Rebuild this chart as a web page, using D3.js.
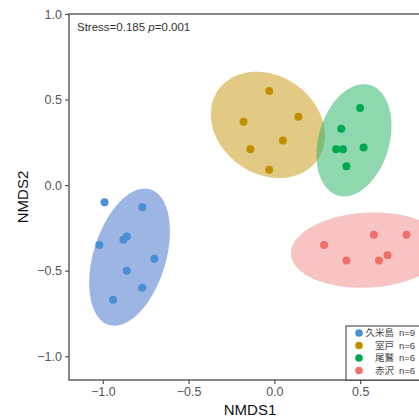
<!DOCTYPE html>
<html>
<head>
<meta charset="utf-8">
<script src="https://cdn.jsdelivr.net/npm/d3@7"></script>
<style>
  body { margin: 0; background: #fff; }
  svg { display: block; font-family: "Liberation Sans", Arial, sans-serif; }
</style>
</head>
<body>
<div id="chart"></div>
<script>
// groups (sites)
var groups = ["久米島", "室戸", "尾鷲", "赤沢"];
var groupN = [9, 6, 6, 6];
var pointColors = ["#4a8fd6", "#c08f00", "#00a84f", "#ef6f6a"];
var ellipseColors = ["#3a6cc8", "#c8960a", "#20b060", "#f08888"];

// NMDS scores
var kumejimaX = [-0.99, -0.77, -1.02, -0.88, -0.86, -0.70, -0.86, -0.77, -0.94];
var kumejimaY = [-0.10, -0.13, -0.35, -0.32, -0.30, -0.43, -0.50, -0.60, -0.67];
var murotoX = [-0.03, -0.18, 0.14, 0.05, -0.14, -0.03];
var murotoY = [0.55, 0.37, 0.40, 0.26, 0.21, 0.09];
var owaseX = [0.50, 0.39, 0.36, 0.40, 0.52, 0.42];
var owaseY = [0.45, 0.33, 0.21, 0.21, 0.22, 0.11];
var akasawaX = [0.29, 0.58, 0.77, 0.42, 0.61, 0.66];
var akasawaY = [-0.35, -0.29, -0.29, -0.44, -0.44, -0.41];

// 95% ellipses: centre, semi-axes, angle (deg) in NMDS units
var ellCx = [-0.844, -0.038, 0.464, 0.545];
var ellCy = [-0.421, 0.352, 0.262, -0.380];
var ellA = [0.414, 0.354, 0.336, 0.449];
var ellB = [0.211, 0.286, 0.206, 0.219];
var ellAngle = [73, 144.6, 74, 3];

var xTicks = [-1.0, -0.5, 0.0, 0.5];
var yTicks = [-1.0, -0.5, 0.0, 0.5, 1.0];
var annotation = "Stress=0.185 ";
var annotationP = "=0.001";

var allX = [kumejimaX, murotoX, owaseX, akasawaX];
var allY = [kumejimaY, murotoY, owaseY, akasawaY];

var width = 419, height = 419;
var margin = { top: 14, left: 69, bottom: 380, right: 431 };

var svg = d3.select("#chart").append("svg")
  .attr("width", width)
  .attr("height", height);

var x = d3.scaleLinear().domain([-1.197, 0.913]).range([margin.left, margin.right]);
var y = d3.scaleLinear().domain([-1.139, 1.0]).range([margin.bottom, margin.top]);

var fmt = d3.format(".1f");

// ellipses
var line = d3.line()
  .x(function(d) { return x(d[0]); })
  .y(function(d) { return y(d[1]); })
  .curve(d3.curveLinearClosed);

for (var g = 0; g < groups.length; g++) {
  var pts = [];
  var phi = ellAngle[g] * Math.PI / 180;
  for (var k = 0; k < 120; k++) {
    var t = k / 120 * 2 * Math.PI;
    pts.push([
      ellCx[g] + ellA[g] * Math.cos(t) * Math.cos(phi) - ellB[g] * Math.sin(t) * Math.sin(phi),
      ellCy[g] + ellA[g] * Math.cos(t) * Math.sin(phi) + ellB[g] * Math.sin(t) * Math.cos(phi)
    ]);
  }
  svg.append("path")
    .attr("d", line(pts))
    .attr("fill", ellipseColors[g])
    .attr("fill-opacity", 0.5)
    .attr("stroke", "none");
}

// points
for (var g = 0; g < groups.length; g++) {
  svg.append("g").selectAll("circle")
    .data(d3.range(allX[g].length))
    .enter()
    .append("circle")
    .attr("cx", function(i) { return x(allX[g][i]); })
    .attr("cy", function(i) { return y(allY[g][i]); })
    .attr("r", 4)
    .attr("fill", pointColors[g]);
}

// axes
var xAxis = d3.axisBottom(x).tickValues(xTicks).tickFormat(fmt).tickSize(4).tickPadding(3);
var yAxis = d3.axisLeft(y).tickValues(yTicks).tickFormat(fmt).tickSize(4).tickPadding(3);

var gx = svg.append("g")
  .attr("transform", "translate(0," + margin.bottom + ")")
  .call(xAxis);
var gy = svg.append("g")
  .attr("transform", "translate(" + margin.left + ",0)")
  .call(yAxis);

[gx, gy].forEach(function(a) {
  a.select(".domain").remove();
  a.selectAll(".tick line").attr("stroke", "#555").attr("stroke-width", 1.2);
  a.selectAll(".tick text")
    .attr("fill", "#555")
    .style("font-size", "12.5px")
    .style("font-family", "'Liberation Sans', Arial, sans-serif");
});

// panel border
svg.append("rect")
  .attr("x", margin.left)
  .attr("y", margin.top)
  .attr("width", margin.right - margin.left)
  .attr("height", margin.bottom - margin.top)
  .attr("fill", "none")
  .attr("stroke", "#555")
  .attr("stroke-width", 1.4);

// axis titles
svg.append("text")
  .attr("x", (margin.left + margin.right) / 2)
  .attr("y", 415)
  .attr("text-anchor", "middle")
  .style("font-size", "15px")
  .attr("fill", "#111")
  .text("NMDS1");

svg.append("text")
  .attr("transform", "translate(28," + (margin.top + margin.bottom) / 2 + ") rotate(-90)")
  .attr("text-anchor", "middle")
  .style("font-size", "15px")
  .attr("fill", "#111")
  .text("NMDS2");

// annotation
var ann = svg.append("text")
  .attr("x", 77)
  .attr("y", 31)
  .style("font-size", "11.5px")
  .attr("fill", "#333");
ann.append("tspan").text(annotation);
ann.append("tspan").style("font-style", "italic").text("p");
ann.append("tspan").text(annotationP);

// legend
var legend = svg.append("g");
legend.append("rect")
  .attr("x", 346)
  .attr("y", 326)
  .attr("width", 110)
  .attr("height", 54)
  .attr("fill", "#fff")
  .attr("stroke", "#333")
  .attr("stroke-width", 1);

groups.forEach(function(name, i) {
  var yy = 333 + i * 12.5;
  legend.append("circle")
    .attr("cx", 359)
    .attr("cy", yy)
    .attr("r", 3.8)
    .attr("fill", pointColors[i]);
  legend.append("text")
    .attr("x", 394)
    .attr("y", yy + 3.4)
    .attr("text-anchor", "end")
    .style("font-family", "'Noto Sans CJK JP', sans-serif")
    .style("font-size", "9.5px")
    .attr("fill", "#444")
    .text(name);
  legend.append("text")
    .attr("x", 399)
    .attr("y", yy + 3.4)
    .style("font-size", "9.5px")
    .attr("fill", "#444")
    .text("n=" + groupN[i]);
});
</script>
</body>
</html>
